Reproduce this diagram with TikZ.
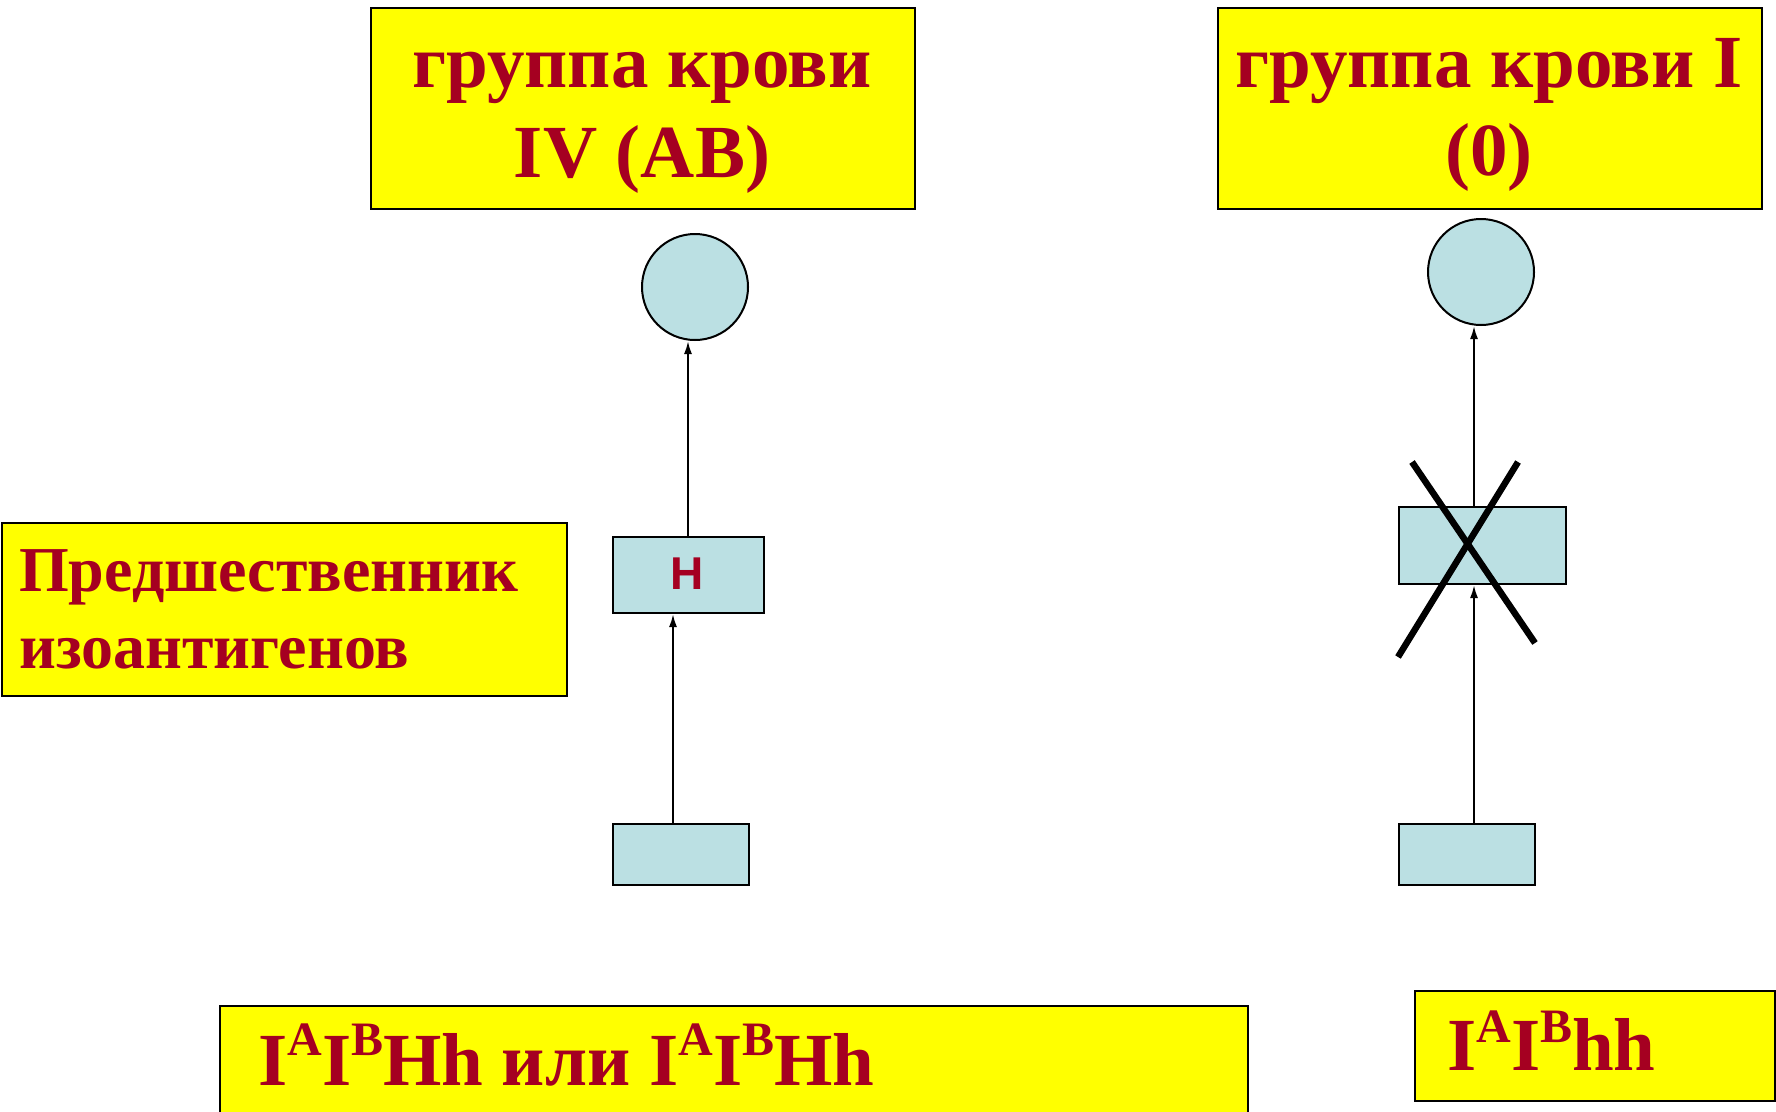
\documentclass[tikz,border=0pt]{standalone}
\usepackage{fontspec}
\setmainfont{Liberation Serif}
\newfontfamily\hsans{Liberation Sans}
\usetikzlibrary{arrows.meta}
\definecolor{txtred}{HTML}{A50021}
\definecolor{yfill}{HTML}{FFFF00}
\definecolor{bfill}{HTML}{BBE0E3}
\newcommand\gsup[2]{\raisebox{#1pt}{\fontsize{48}{48}\selectfont #2}}
\begin{document}
\begin{tikzpicture}[x=1pt,y=-1pt,
  ybox/.style={draw=black,line width=2pt,fill=yfill,rectangle,inner sep=0pt,anchor=north west},
  bbox/.style={draw=black,line width=2pt,fill=bfill,rectangle,inner sep=0pt,anchor=north west},
  bcirc/.style={draw=black,line width=2pt,fill=bfill,circle,inner sep=0pt,minimum size=106pt},
  bigtxt/.style={text=txtred,inner sep=0pt,font=\fontsize{75}{75}\selectfont\bfseries},
  midtxt/.style={text=txtred,inner sep=0pt,font=\fontsize{64}{64}\selectfont\bfseries},
  gtxt/.style={text=txtred,inner sep=0pt,font=\fontsize{75}{75}\selectfont\bfseries},
  arr/.style={line width=2pt,-{Latex[length=13pt,width=8pt]}},
  xline/.style={line width=6.5pt}]
\useasboundingbox (0,0) rectangle (1776,1111);
% top boxes
\node[ybox,minimum width=544pt,minimum height=201pt] (topL) at (370,7) {};
\node[ybox,minimum width=544pt,minimum height=201pt] (topR) at (1217,7) {};
\node[bigtxt,anchor=base] (topLa) at (642,87) {группа крови};
\node[bigtxt,anchor=base] (topLb) at (642,177) {IV (AB)};
\node[bigtxt,anchor=base] (topRa) at (1489,87) {группа крови I};
\node[bigtxt,anchor=base] (topRb) at (1489,175) {(0)};
% left label box
\node[ybox,minimum width=565pt,minimum height=173pt] (prec) at (1,522) {};
\node[midtxt,anchor=base west] (preca) at (19,591) {Предшественник};
\node[midtxt,anchor=base west] (precb) at (19,668) {изоантигенов};
% left chain
\node[bcirc] (cL) at (695,287) {};
\node[bbox,minimum width=151pt,minimum height=76pt] (hL) at (612,536) {};
\node[text=txtred,inner sep=0pt,font=\hsans\fontsize{46}{46}\selectfont\bfseries] (hLt) at (687,574) {H};
\node[bbox,minimum width=136pt,minimum height=61pt] (gL) at (612,823) {};
\coordinate (aL1) at (688,536);
\draw[arr] (aL1) -- (aL1 |- cL.south);
\coordinate (aL2) at (673,823);
\draw[arr] (aL2) -- (aL2 |- hL.south);
% right chain
\node[bcirc] (cR) at (1481,272) {};
\node[bbox,minimum width=167pt,minimum height=77pt] (hR) at (1398,506) {};
\node[bbox,minimum width=136pt,minimum height=61pt] (gR) at (1398,823) {};
\coordinate (aR1) at (1474,506);
\draw[arr] (aR1) -- (aR1 |- cR.south);
\coordinate (aR2) at (1474,823);
\draw[arr] (aR2) -- (aR2 |- hR.south);
\coordinate (x1a) at (1412,462);
\coordinate (x1b) at (1535,643);
\coordinate (x2a) at (1518,462);
\coordinate (x2b) at (1398,657);
\draw[xline] (x1a) -- (x1b);
\draw[xline] (x2a) -- (x2b);
% bottom genotype boxes
\begin{scope}
\clip (0,0) rectangle (1776,1111);
\node[ybox,minimum width=1028pt,minimum height=130pt] (genL) at (219,1005) {};
\node[ybox,minimum width=360pt,minimum height=110pt] (genR) at (1414,990) {};
\end{scope}
\node[gtxt,anchor=base west] (genLt) at (258,1085) {I\gsup{30}{A}I\gsup{30}{B}Hh или I\gsup{30}{A}I\gsup{30}{B}Hh};
\node[gtxt,anchor=base west] (genRt) at (1447,1070) {I\gsup{28}{A}I\gsup{28}{B}hh};
\end{tikzpicture}
\end{document}
